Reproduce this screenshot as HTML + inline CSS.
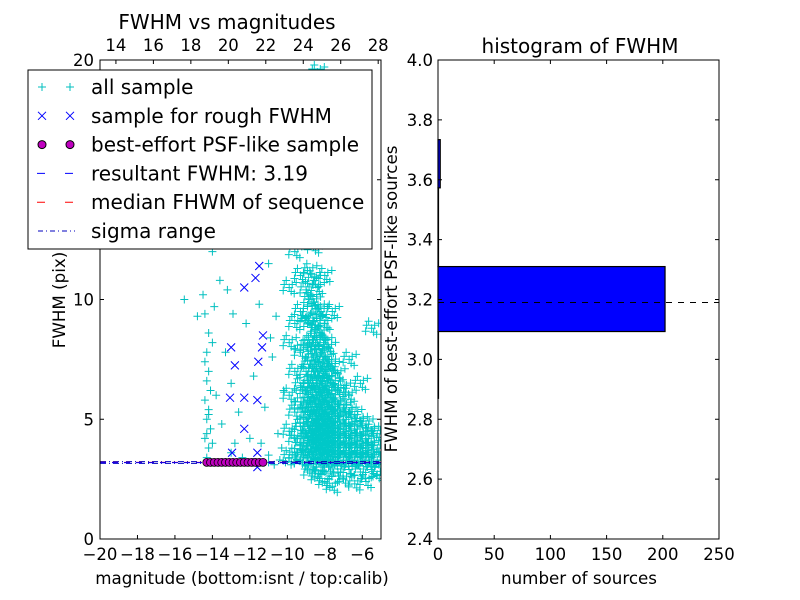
<!DOCTYPE html>
<html><head><meta charset="utf-8">
<style>
body{margin:0;background:#fff;}
svg{display:block;font-family:"DejaVu Sans","Liberation Sans",sans-serif;}
</style></head>
<body>
<svg id="fig" width="800" height="600" viewBox="0 0 800 600"></svg>
<script>
// ---- data: left scatter ----
const allX = [-14.3,-14.2,-14.4,-14.1,-14.3,-14.2,-14.4,-14.1,-14.3,-14.2,-14.4,-14.3,-14.0,-14.2,-14.4,-13.9,-14.5,-14.3,-14.2,-14.0,
 -15.5,-14.8,-13.6,-12.9,-13.2,-14.0,
 -13.5,-13.0,-12.6,-12.0,-11.8,-11.2,-10.8,-10.5,-11.5,-12.2,-10.6,-10.9,-11.0,-10.4,-12.6,-13.8,-13.3,-12.8,-11.4,-10.2,-10.3,-13.0,-12.4,-11.0,
 -11.0,-10.7,-10.4,-10.1,-9.8,-9.5,-9.2,-8.9,-8.6,-8.3,-8.0,-7.7,-7.4,-7.1,-6.8,-6.5,-6.2,-5.9,-5.6,-5.3];
const allY = [3.4,3.8,4.2,4.6,5.0,5.4,5.8,6.2,6.6,7.0,7.4,7.8,8.2,8.6,9.4,9.7,10.2,4.4,5.2,4.0,
 10.0,9.3,10.8,9.4,10.4,12.0,
 4.8,6.5,5.3,4.2,6.8,5.5,7.6,4.4,9.8,9.0,9.3,8.4,11.5,12.4,12.5,6.0,7.8,4.0,4.0,6.2,3.8,3.6,3.4,3.5,
 3.2,3.1,3.3,3.2,3.1,3.3,3.2,3.1,3.3,3.2,3.1,3.3,3.2,3.1,3.3,3.2,3.1,3.3,3.2,3.1];
// dense cluster: column magnitudes and FWHM values per column
const clusterX = [-9.9,-9.6,-9.3,-9.0,-8.8,-8.6,-8.4,-8.2,-8.0,-7.8,-7.6,-7.3,-7.0,-6.7,-6.4,-6.1,-5.8,-5.5,-5.2];
const clusterY = [
 [3.4,4.5,6.0,8.2,10.5],
 [3.5,4.2,5.3,7.0,9.0,12.0],
 [3.3,3.9,4.7,5.6,6.4,7.8,9.5,11.0,14.5],
 [3.4,3.9,4.4,5.0,5.6,6.2,7.0,8.0,9.2,10.4,12.6,15.5],
 [2.8,3.6,4.1,4.6,5.2,5.8,6.5,7.3,8.2,9.0,10.0,11.2,13.5,17.0],
 [3.0,3.5,4.0,4.4,4.9,5.4,5.9,6.4,7.0,7.6,8.3,9.1,9.9,10.8,12.2,13.8],
 [2.6,3.4,3.8,4.2,4.6,5.0,5.5,6.0,6.5,7.0,7.6,8.2,8.8,9.6,10.5,12.5,15.0,19.5],
 [3.0,3.5,3.9,4.3,4.7,5.1,5.5,6.0,6.5,7.1,7.8,8.6,9.5],
 [2.4,3.3,3.7,4.1,4.5,4.9,5.3,5.8,6.3,6.9,7.5,8.2,9.0,11.0],
 [3.0,3.5,3.9,4.3,4.7,5.1,5.6,6.1,6.7,7.3,8.0],
 [2.2,3.3,3.7,4.1,4.5,4.9,5.4,5.9,6.5,7.2,9.5],
 [2.8,3.4,3.8,4.2,4.6,5.1,5.6,6.2,6.9],
 [2.5,3.3,3.7,4.1,4.5,5.0,5.5,6.3],
 [2.9,3.4,3.8,4.2,4.7,5.3,6.0,7.5],
 [2.3,3.3,3.7,4.1,4.6,5.2],
 [2.8,3.4,3.8,4.3,4.9,6.5],
 [2.4,3.3,3.7,4.2,4.8],
 [2.9,3.4,3.9,4.5,8.8],
 [2.7,3.3,3.8,4.4]];
const roughX = [-11.5,-11.7,-12.3,-11.3,-11.35,-13.0,-12.8,-11.55,-13.06,-12.3,-11.6,-12.3,-12.95,-11.6,-11.6,-13.5,-12.0];
const roughY = [11.4,10.9,10.5,8.5,8.0,8.0,7.25,7.4,5.9,5.9,5.8,4.6,3.6,3.6,3.0,3.2,3.2];
const psfX = [-14.3,-14.1,-13.9,-13.7,-13.5,-13.3,-13.1,-12.9,-12.7,-12.5,-12.3,-12.1,-11.9,-11.7,-11.5,-11.3];
const psfY = [3.2,3.2,3.2,3.2,3.2,3.2,3.2,3.2,3.2,3.2,3.2,3.2,3.2,3.2,3.2,3.2];
const resultantFWHM = 3.19;
const medianFWHM = 3.2;
const sigmaLow = 3.16, sigmaHigh = 3.23;
const xTicks = [-20,-18,-16,-14,-12,-10,-8,-6];
const xTickLabels = ["\u221220","\u221218","\u221216","\u221214","\u221212","\u221210","\u22128","\u22126"];
const yTicks = [0,5,10,15,20];
const topTicks = [14,16,18,20,22,24,26,28];
const calibOffset = 33.15;
// ---- data: histogram ----
const binLow = [2.87,3.093,3.31,3.573];
const binHigh = [3.093,3.31,3.573,3.734];
const binCount = [0,202,0,2];
const hxTicks = [0,50,100,150,200,250];
const hyTicks = [2.4,2.6,2.8,3.0,3.2,3.4,3.6,3.8,4.0];

const NS="http://www.w3.org/2000/svg";
const svg=document.getElementById('fig');
function mk(tag,attrs,parent){const e=document.createElementNS(NS,tag);for(const k in attrs)e.setAttribute(k,attrs[k]);(parent||svg).appendChild(e);return e;}
function txt(s,x,y,attrs,parent){const e=mk('text',Object.assign({x:x,y:y,'font-size':16.5,fill:'#000'},attrs||{}),parent);e.textContent=s;return e;}

// left axes
const L={x0:100,x1:381,y0:539,y1:60};
const sx=v=>L.x0+(v+20)/15*(L.x1-L.x0);
const sy=v=>L.y0-v/20*(L.y0-L.y1);
const sxTop=v=>sx(v-calibOffset);
const clip=mk('clipPath',{id:'lc'});mk('rect',{x:L.x0,y:L.y1,width:L.x1-L.x0,height:L.y0-L.y1},clip);
const gPlot=mk('g',{'clip-path':'url(#lc)'});



function plus(x,y,g,col){mk('path',{d:`M${x-4} ${y}h8M${x} ${y-4}v8`,stroke:col,'stroke-width':1,fill:'none'},g);}
const gAll=mk('g',{},gPlot);


for(let i=0;i<allX.length;i++)plus(sx(allX[i]),sy(allY[i]),gAll,'#00bfbf');
const offs=[[0,0],[5,6],[-3,-7],[-6,3],[3,-3],[7,-5],[-5,-3],[2,4]];
for(let c=0;c<clusterX.length;c++){for(const v of clusterY[c]){for(const o of offs)plus(sx(clusterX[c])+o[0],sy(v)+o[1],gAll,'#00c8c8');}}
const gRough=mk('g',{},gPlot);


for(let i=0;i<roughX.length;i++){const x=sx(roughX[i]),y=sy(roughY[i]);mk('path',{d:`M${x-4} ${y-4}l8 8M${x-4} ${y+4}l8 -8`,stroke:'#0000ff','stroke-width':1},gRough);}
const gLines=mk('g',{},gPlot);


mk('line',{x1:L.x0,x2:L.x1,y1:sy(sigmaLow),y2:sy(sigmaLow),stroke:'#0000bf','stroke-dasharray':'6 3 1 3'},gLines);
mk('line',{x1:L.x0,x2:L.x1,y1:sy(sigmaHigh),y2:sy(sigmaHigh),stroke:'#0000bf','stroke-dasharray':'6 3 1 3'},gLines);
mk('line',{x1:L.x0,x2:L.x1,y1:sy(medianFWHM),y2:sy(medianFWHM),stroke:'#ff0000','stroke-dasharray':'6 6'},gLines);
mk('line',{x1:L.x0,x2:L.x1,y1:sy(resultantFWHM),y2:sy(resultantFWHM),stroke:'#0000ff','stroke-dasharray':'6 6'},gLines);
const gPsf=mk('g',{},gPlot);


for(let i=0;i<psfX.length;i++)mk('circle',{cx:sx(psfX[i]),cy:sy(psfY[i]),r:4,fill:'#bf00bf',stroke:'#000','stroke-width':0.8},gPsf);

// left frame & ticks
mk('rect',{x:L.x0,y:L.y1,width:L.x1-L.x0,height:L.y0-L.y1,fill:'none',stroke:'#000'});
xTicks.forEach((t,i)=>{const x=sx(t);mk('line',{x1:x,x2:x,y1:L.y0,y2:L.y0-4,stroke:'#000'});txt(xTickLabels[i],x,560,{'text-anchor':'middle'});});
yTicks.forEach(t=>{const y=sy(t);mk('line',{x1:L.x0,x2:L.x0+4,y1:y,y2:y,stroke:'#000'});mk('line',{x1:L.x1,x2:L.x1-4,y1:y,y2:y,stroke:'#000'});txt(String(t),94,y+6,{'text-anchor':'end'});});
topTicks.forEach(t=>{const x=sxTop(t);mk('line',{x1:x,x2:x,y1:L.y1,y2:L.y1+4,stroke:'#000'});txt(String(t),x,51,{'text-anchor':'middle'});});
txt('FWHM vs magnitudes',227,29,{'text-anchor':'middle','font-size':20});
txt('magnitude (bottom:isnt / top:calib)',242,584,{'text-anchor':'middle','font-size':16.7});
txt('FWHM (pix)',65,300,{'text-anchor':'middle','font-size':16.7,transform:'rotate(-90 65 300)'});

// legend
const gLeg=mk('g',{});


mk('rect',{x:28,y:70,width:344,height:179,fill:'#fff',stroke:'#000'},gLeg);
const legLabels=['all sample','sample for rough FWHM','best-effort PSF-like sample','resultant FWHM: 3.19','median FHWM of sequence','sigma range'];
legLabels.forEach((s,i)=>{
 const y=87+i*28.8;
 if(i===0){plus(42,y,gLeg,'#00bfbf');plus(70,y,gLeg,'#00bfbf');}
 else if(i===1){[42,70].forEach(x=>mk('path',{d:`M${x-4} ${y-4}l8 8M${x-4} ${y+4}l8 -8`,stroke:'#0000ff'},gLeg));}
 else if(i===2){[42,70].forEach(x=>mk('circle',{cx:x,cy:y,r:4,fill:'#bf00bf',stroke:'#000'},gLeg));}
 else if(i===3){mk('path',{d:`M37 ${y}h8M65 ${y}h8`,stroke:'#0000ff'},gLeg);}
 else if(i===4){mk('path',{d:`M37 ${y}h8M65 ${y}h8`,stroke:'#ff0000'},gLeg);}
 else {mk('line',{x1:38,x2:75,y1:y,y2:y,stroke:'#0000bf','stroke-dasharray':'5 3 1 3'},gLeg);}
 const t=txt(s,91,y+7,{'font-size':20},gLeg);
 
});

// histogram axes
const H={x0:438,x1:719,y0:539,y1:60};
const hx=v=>H.x0+v/250*(H.x1-H.x0);
const hy=v=>H.y0-(v-2.4)/1.6*(H.y0-H.y1);
const gBars=mk('g',{});


for(let i=0;i<binCount.length;i++){
 const r=mk('rect',{x:hx(0),y:hy(binHigh[i]),width:Math.max(hx(binCount[i])-hx(0),0.5),height:hy(binLow[i])-hy(binHigh[i]),fill:'#0000ff',stroke:'#000','stroke-width':1.2},gBars);
 
}
mk('line',{x1:H.x0,x2:H.x1,y1:hy(resultantFWHM),y2:hy(resultantFWHM),stroke:'#000','stroke-dasharray':'6 6'});
mk('rect',{x:H.x0,y:H.y1,width:H.x1-H.x0,height:H.y0-H.y1,fill:'none',stroke:'#000'});
hxTicks.forEach(t=>{const x=hx(t);mk('line',{x1:x,x2:x,y1:H.y0,y2:H.y0-4,stroke:'#000'});mk('line',{x1:x,x2:x,y1:H.y1,y2:H.y1+4,stroke:'#000'});txt(String(t),x,560,{'text-anchor':'middle'});});
hyTicks.forEach(t=>{const y=hy(t);mk('line',{x1:H.x0,x2:H.x0+4,y1:y,y2:y,stroke:'#000'});mk('line',{x1:H.x1,x2:H.x1-4,y1:y,y2:y,stroke:'#000'});txt(t.toFixed(1),433,y+6,{'text-anchor':'end'});});
txt('histogram of FWHM',580,53,{'text-anchor':'middle','font-size':20});
txt('number of sources',579,584,{'text-anchor':'middle','font-size':16.7});
txt('FWHM of best-effort PSF-like sources',397,299,{'text-anchor':'middle','font-size':16.7,transform:'rotate(-90 397 299)'});
</script>
</body></html>
